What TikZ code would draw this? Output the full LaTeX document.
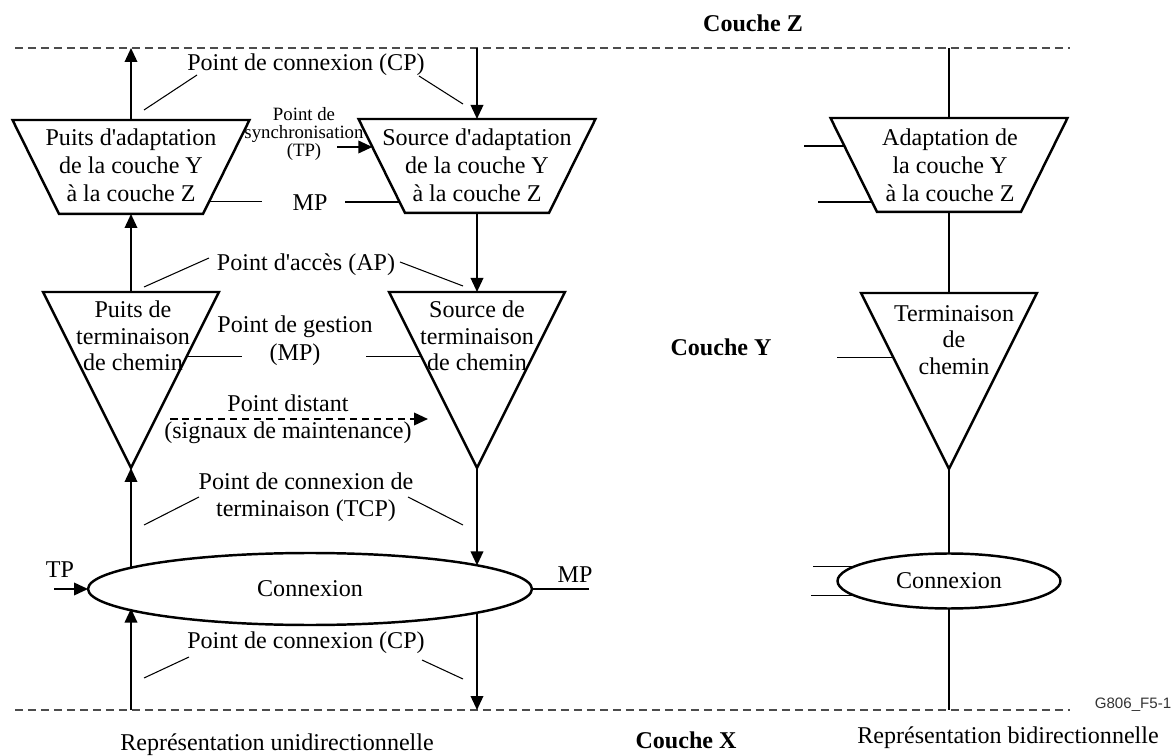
\documentclass[tikz,border=0pt]{standalone}
\usepackage{fontspec}
\newfontfamily\figserif{Liberation Serif}
\newfontfamily\figfont{Liberation Sans}
\usetikzlibrary{calc,positioning,arrows.meta,shapes.geometric}

\begin{document}
\begin{tikzpicture}[
  x=0.02cm, y=-0.02cm,
  font=\figserif\fontsize{13.7}{15.9}\selectfont,
  box/.style={draw,line width=1.4pt,inner sep=0pt,outer sep=0pt},
  adapt/.style={inner sep=0pt,outer sep=0pt,minimum width=4.74cm,minimum height=1.88cm,anchor=north},
  term/.style={box,isosceles triangle,shape border rotate=270,isosceles triangle stretches,
    minimum width=3.52cm,minimum height=3.52cm,anchor=north},
  conn/.style={box,ellipse},
  txt/.style={align=center,inner sep=0pt},
  tritxt/.style={txt,font=\figserif\fontsize{13.7}{15}\selectfont},
  couche/.style={font=\figserif\fontsize{13.7}{16}\selectfont\bfseries},
  flow/.style={line width=1.1pt,-{Triangle[length=2.8mm,width=2.5mm]}},
  wire/.style={line width=1.2pt},
  leader/.style={line width=0.6pt},
  layer/.style={line width=0.8pt,black!70,dash pattern=on 1.6mm off 1mm},
  ]
  \useasboundingbox (0,0) rectangle (1173,756);

  % layer boundaries
  \coordinate (zL) at (15,48);
  \coordinate (zR) at (1070,48);
  \coordinate (xL) at (15,710);
  \coordinate (xR) at (1070,710);
  \draw[layer] (zL) -- (zR);
  \draw[layer] (xL) -- (xR);

  \node (couchez) [couche] at (753,23) {Couche Z};
  \node (couchey) [couche] at (721,347) {Couche Y};
  \node (couchex) [couche] at (686,740) {Couche X};

  % shapes
  \node (sinkA) [adapt] at (131,120) {};
  \node (srcA) [adapt] at (477,119) {};
  \node (bidirA) [adapt] at (949,118) {};
  \foreach \n in {sinkA,srcA,bidirA}
  {
    \coordinate (\n-bl) at ($(\n.south west)+(46.5,0)$);
    \coordinate (\n-br) at ($(\n.south east)+(-46.5,0)$);
    \draw[box] (\n.north west) -- (\n.north east) -- (\n-br) -- (\n-bl) -- cycle;
  }
  \node (sinkT) [term] at (131,292) {};
  \node (srcT) [term] at (477,292) {};
  \node (bidirT) [term] at (949,293) {};
  \node (conn) [conn,minimum width=8.88cm,minimum height=1.44cm] at (310,589) {Connexion};
  \node (bidirC) [conn,minimum width=4.46cm,minimum height=1.1cm] at (949,581) {Connexion};

  \node (sinkAtxt) [txt] at (131,165) {Puits d'adaptation\\de la couche Y\\à la couche Z};
  \node (srcAtxt) [txt] at (477,165) {Source d'adaptation\\de la couche Y\\à la couche Z};
  \node (bidirAtxt) [txt] at (950,165) {Adaptation de\\la couche Y\\à la couche Z};
  \node (sinkTtxt) [tritxt] at (133,336) {Puits de\\terminaison\\de chemin};
  \node (srcTtxt) [tritxt] at (477,336) {Source de\\terminaison\\de chemin};
  \node (bidirTtxt) [tritxt] at (954,340) {Terminaison\\de\\chemin};

  % labels
  \node (cptop) at (306,65) {Point de connexion (CP)};
  \node (sync) [txt,font=\figserif\fontsize{10.7}{10.5}\selectfont] at (304,134) {Point de\\synchronisation\\(TP)};
  \node (mptop) at (310,203) {MP};
  \node (ap) at (306,265) {Point d'accès (AP)};
  \node (gestion) [txt] at (295,341) {Point de gestion\\(MP)};
  \node (distant) at (288,403) {Point distant};
  \node (maint) at (288,433) {(signaux de maintenance)};
  \node (tcp) [txt,font=\figserif\fontsize{13.7}{15.3}\selectfont] at (306,497) {Point de connexion de\\terminaison (TCP)};
  \node (tp) at (60,570) {TP};
  \node (mpconn) at (575,575) {MP};
  \node (cpbot) at (306,643) {Point de connexion (CP)};
  \node (unidir) at (277,745) {Représentation unidirectionnelle};
  \node (bidir) at (1008,738) {Représentation bidirectionnelle};
  \node (figid) [font=\figfont\fontsize{8.6}{10}\selectfont,black!80] at (1133,705) {G806\_F5-1};

  % unidirectional flows
  \draw[flow] (sinkA.north) -- (sinkA.north |- zL);
  \draw[flow] (srcA.north |- zL) -- (srcA.north);
  \draw[flow] (sinkT.north) -- (sinkA.south);
  \draw[flow] (srcA.south) -- (srcT.north);
  \draw[flow] (sinkT.south |- conn.173.2) -- (sinkT.south);
  \draw[flow] (srcT.south) -- (srcT.south |- conn.8.1);
  \draw[flow] (sinkT.south |- xL) -- (sinkT.south |- conn.186.8);
  \draw[flow] (srcT.south |- conn.351.9) -- (srcT.south |- xL);
  \draw[flow] ($(conn.west)+(-34,0)$) -- (conn.west);
  \coordinate (syncin) at ($(srcA.north west)!0.298!(srcA-bl)$);
  \draw[flow] ($(syncin)+(-35,0)$) -- (syncin);

  \coordinate (distA) at (170,419);
  \coordinate (distB) at (428,419);
  \draw[flow,line width=1.2pt,dash pattern=on 1.5mm off 0.9mm] (distA) -- (distB);

  % management points
  \draw[leader] ($(sinkA.north east)!0.872!(sinkA-br)$) -- ++(53,0);
  \draw[leader] ($(srcA.north west)!0.883!(srcA-bl)$) -- ++(-55,0);
  \draw[leader] ($(sinkT.left corner)!0.369!(sinkT.apex)$) -- ++(55,0);
  \draw[leader] ($(srcT.right corner)!0.368!(srcT.apex)$) -- ++(-55,0);
  \draw[leader] (conn.east) -- ++(57,0);

  % reference point leaders
  \foreach \xa/\ya/\xb/\yb in {144/110/197/75, 419/76/463/104,
                               144/287/209/258, 400/262/463/286,
                               144/525/199/497, 408/497/463/525,
                               144/678/189/657, 422/660/463/679}
    \draw[leader] (\xa,\ya) -- (\xb,\yb);

  % bidirectional
  \draw[wire] (bidirA.north |- zL) -- (bidirA.north);
  \draw[wire] (bidirA.south) -- (bidirT.north);
  \draw[wire] (bidirT.south) -- (bidirC.north);
  \draw[wire] (bidirC.south) -- (bidirC.south |- xL);

  \draw[leader] ($(bidirA.north west)!0.298!(bidirA-bl)$) -- ++(-40,0);
  \draw[leader] ($(bidirA.north west)!0.894!(bidirA-bl)$) -- ++(-54,0);
  \draw[leader] ($(bidirT.right corner)!0.366!(bidirT.apex)$) -- ++(-56,0);
  \draw[leader] (bidirC.171.7) -- ++(-42,0);
  \draw[leader] (bidirC.189.1) -- ++(-44,0);

\end{tikzpicture}
\end{document}
